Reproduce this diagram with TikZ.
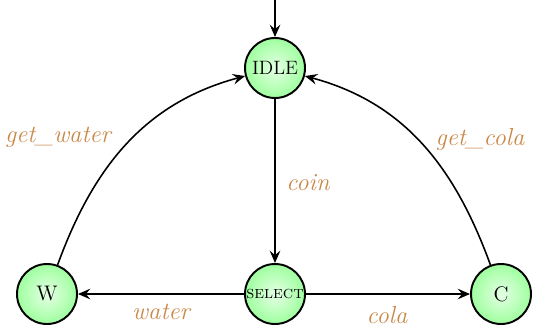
\documentclass[tikz,border=0pt]{standalone}
\usetikzlibrary{arrows.meta}
\definecolor{lbl}{RGB}{200,136,72}
\begin{document}
\begin{tikzpicture}[x=0.02cm,y=0.02cm,
  state/.style={circle,draw=black,line width=1.1pt,minimum size=1.2cm,inner sep=0pt,
    inner color=green!10,outer color=green!38!white,font=\fontsize{11}{13}\selectfont},
  edge/.style={-{Stealth[length=7pt,width=6pt,inset=2.5pt]},line width=0.9pt},
  lab/.style={text=lbl,font=\fontsize{14}{16}\selectfont\itshape,inner sep=0pt}]
\useasboundingbox (0,0) rectangle (533,328);
\node[state] (idle) at (275,260) {IDLE};
\node[state,font=\fontsize{10}{12}\selectfont\scshape] (select) at (275,34) {select};
\node[state,font=\fontsize{12}{14}\selectfont] (w) at (47,34) {W};
\node[state,font=\fontsize{12}{14}\selectfont] (c) at (501,34) {C};
\coordinate (start) at (275,328);
\draw[edge] (start) -- (idle);
\draw[edge] (idle) -- (select);
\draw[edge] (select) -- (w);
\draw[edge] (select) -- (c);
\draw[edge] (w) to[out=70,in=195] (idle);
\draw[edge] (c) to[out=110,in=-15] (idle);
\node[lab] (lcoin) at (308,145) {coin};
\node[lab] (lwater) at (161,16) {water};
\node[lab] (lcola) at (387,13) {cola};
\node[lab] (lgw) at (58,191) {get\_water};
\node[lab] (lgc) at (480,189) {get\_cola};
\end{tikzpicture}
\end{document}
